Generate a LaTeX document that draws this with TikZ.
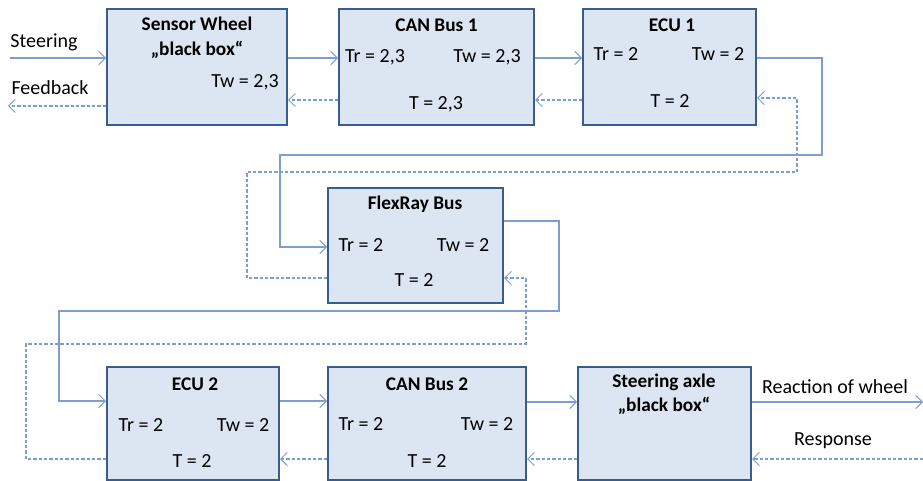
\documentclass[tikz,border=0pt]{standalone}
\usepackage{fontspec}
\setmainfont{Carlito}
\usetikzlibrary{arrows.meta}
\definecolor{boxfill}{RGB}{220,230,242}
\definecolor{boxline}{RGB}{56,93,138}
\definecolor{linkcol}{RGB}{125,158,208}
\tikzset{
  unit/.style={draw=boxline, fill=boxfill, line width=1.5pt, inner sep=0pt},
  lbl/.style={font=\fontsize{15}{17}\selectfont, inner sep=0pt},
  ttl/.style={font=\fontsize{14.5}{17}\selectfont\bfseries, inner sep=0pt, align=center},
  fwd/.style={draw=linkcol, line width=0.8pt, -{Straight Barb[length=5pt,width=10pt,line width=0.7pt]}},
  bwd/.style={draw=linkcol, line width=0.8pt, dash pattern=on 2.5pt off 1.5pt, -{Straight Barb[length=5pt,width=10pt,line width=0.7pt]}}
}
\begin{document}
\begin{tikzpicture}[x=0.75pt, y=-0.75pt]
\useasboundingbox (0,0) rectangle (923,481);

% blocks
\node[unit, minimum width=180*0.75pt, minimum height=116*0.75pt] (sw) at (197,67) {};
\node[unit, minimum width=195*0.75pt, minimum height=116*0.75pt] (can1) at (436.5,67) {};
\node[unit, minimum width=173*0.75pt, minimum height=116*0.75pt] (ecu1) at (669.5,67) {};
\node[unit, minimum width=175*0.75pt, minimum height=115*0.75pt] (fr) at (415.5,245.5) {};
\node[unit, minimum width=172*0.75pt, minimum height=113*0.75pt] (ecu2) at (193,423) {};
\node[unit, minimum width=198*0.75pt, minimum height=113*0.75pt] (can2) at (427,423) {};
\node[unit, minimum width=173*0.75pt, minimum height=113*0.75pt] (ax) at (664.5,423) {};

% block texts
\node[ttl] (swt) at (197,24) {Sensor Wheel};
\node[ttl] (swb) at (197,50) {„black box“};
\node[lbl] (swtw) at (245,82) {Tw = 2,3};

\node[ttl] (c1t) at (436.5,25) {CAN Bus 1};
\node[lbl] (c1tr) at (375,57) {Tr = 2,3};
\node[lbl] (c1tw) at (487,57) {Tw = 2,3};
\node[lbl] (c1t2) at (436,104) {T = 2,3};

\node[ttl] (e1t) at (672,25) {ECU 1};
\node[lbl] (e1tr) at (616,54) {Tr = 2};
\node[lbl] (e1tw) at (718,54) {Tw = 2};
\node[lbl] (e1t2) at (670,101) {T = 2};

\node[ttl] (frt) at (415,204) {FlexRay Bus};
\node[lbl] (frtr) at (361,245) {Tr = 2};
\node[lbl] (frtw) at (463,245) {Tw = 2};
\node[lbl] (frt2) at (414,280) {T = 2};

\node[ttl] (e2t) at (195,384) {ECU 2};
\node[lbl] (e2tr) at (141,425) {Tr = 2};
\node[lbl] (e2tw) at (243,425) {Tw = 2};
\node[lbl] (e2t2) at (192,461) {T = 2};

\node[ttl] (c2t) at (427,384) {CAN Bus 2};
\node[lbl] (c2tr) at (361,424) {Tr = 2};
\node[lbl] (c2tw) at (487,424) {Tw = 2};
\node[lbl] (c2t2) at (427,461) {T = 2};

\node[ttl] (axt) at (664,382) {Steering axle};
\node[ttl] (axb) at (664,406) {„black box“};

% outer labels
\node[lbl] (steer) at (44,42) {Steering};
\node[lbl] (feed) at (50,88) {Feedback};
\node[lbl] (react) at (835,387) {Reaction of wheel};
\node[lbl] (resp) at (833,441) {Response};

% levels and free ends
\coordinate (yA) at (0,58);
\coordinate (yB) at (0,100);
\coordinate (yC) at (0,106);
\coordinate (inS) at (10,58);
\coordinate (outF) at (8,106);
\coordinate (yD) at (0,247);
\coordinate (yE) at (0,278);
\coordinate (yF) at (0,402);
\coordinate (yG) at (0,459);
\coordinate (outR) at (923,402);
\coordinate (inR) at (923,459);

% first row
\draw[fwd] (inS) -- (sw.west |- yA);
\draw[bwd] (sw.west |- yC) -- (outF);
\draw[fwd] (sw.east |- yA) -- (can1.west |- yA);
\draw[bwd] (can1.west |- yB) -- (sw.east |- yB);
\draw[fwd] (can1.east |- yA) -- (ecu1.west |- yA);
\draw[bwd] (ecu1.west |- yB) -- (can1.east |- yB);

% ECU 1 <-> FlexRay Bus
\draw[fwd] (ecu1.east |- yA) -- (822,58) -- (822,155) -- (280,155) -- (280,247) -- (fr.west |- yD);
\draw[bwd] (fr.west |- yE) -- (247,278) -- (247,172) -- (797,172) -- (797,98) -- (ecu1.east |- 0,98);

% FlexRay Bus <-> ECU 2
\draw[fwd] (fr.east |- 0,221) -- (559,221) -- (559,311) -- (59,311) -- (59,401) -- (ecu2.west |- 0,401);
\draw[bwd] (ecu2.west |- yG) -- (26,459) -- (26,344) -- (526,344) -- (526,278) -- (fr.east |- yE);

% bottom row
\draw[fwd] (ecu2.east |- 0,401) -- (can2.west |- 0,401);
\draw[bwd] (can2.west |- yG) -- (ecu2.east |- yG);
\draw[fwd] (can2.east |- yF) -- (ax.west |- yF);
\draw[bwd] (ax.west |- yG) -- (can2.east |- yG);
\draw[fwd] (ax.east |- yF) -- (outR);
\draw[bwd] (inR) -- (ax.east |- yG);
\end{tikzpicture}
\end{document}
